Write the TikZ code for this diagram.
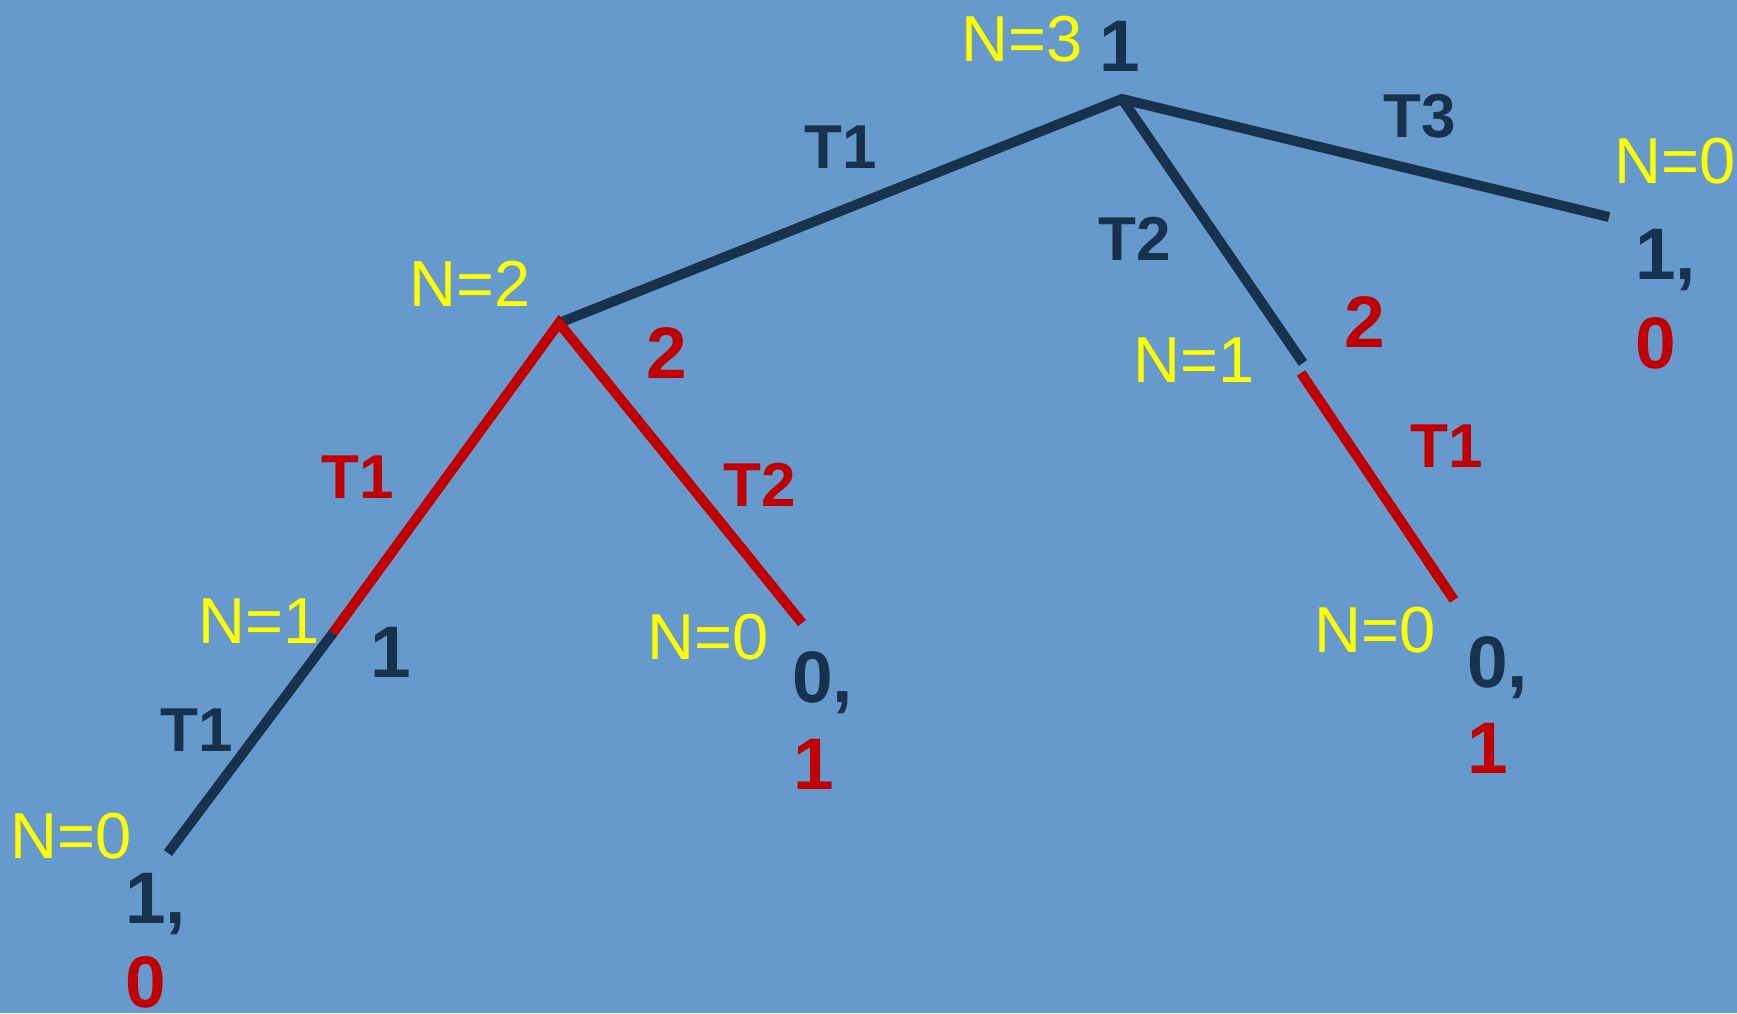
\documentclass[tikz,border=0pt]{standalone}
\usepackage{fontspec}
\setmainfont{Liberation Sans}
\definecolor{bgblue}{RGB}{102,153,204}
\definecolor{navy}{RGB}{24,50,77}
\definecolor{redc}{RGB}{192,0,0}
\definecolor{yel}{RGB}{255,255,0}
\begin{document}
\begin{tikzpicture}[x=1pt,y=-1pt,
  edgedark/.style={draw=navy,line width=10pt},
  edgered/.style={draw=redc,line width=10pt},
  nlab/.style={text=yel,font=\fontsize{65}{70}\selectfont,inner sep=0pt,anchor=base},
  tlab/.style={text=navy,font=\fontsize{62}{70}\selectfont\bfseries,inner sep=0pt,anchor=base},
  trlab/.style={text=redc,font=\fontsize{62}{70}\selectfont\bfseries,inner sep=0pt,anchor=base},
  pay/.style={text=navy,font=\fontsize{73}{80}\selectfont\bfseries,inner sep=0pt,anchor=base west},
  payr/.style={text=redc,font=\fontsize{73}{80}\selectfont\bfseries,inner sep=0pt,anchor=base west}]
\fill[bgblue] (0,0) rectangle (1737,1013);
\useasboundingbox (0,0) rectangle (1737,1013);
% tree points
\coordinate (root) at (1122,99);
\coordinate (t3end) at (1609,217);
\coordinate (n2) at (559,323);
\coordinate (rn1a) at (1303,363);
\coordinate (rn1b) at (1301,373);
\coordinate (rend) at (1454,600);
\coordinate (ln1) at (333,633);
\coordinate (lend) at (168,853);
\coordinate (mend) at (802,623);
% edges
\draw[edgedark] (n2) -- (root) -- (t3end);
\draw[edgedark] (root) -- (rn1a);
\draw[edgered] (rn1b) -- (rend);
\draw[edgered] (ln1) -- (n2) -- (mend);
\draw[edgedark] (ln1) -- (lend);
% labels
\node[nlab] (lN3) at (1022,61) {N=3};
\node[pay] (v1) at (1099,71) {1};
\node[tlab] (lT1a) at (841,168) {T1};
\node[tlab] (lT3) at (1420,137) {T3};
\node[nlab] (lN0a) at (1675,183) {N=0};
\node[pay] (p1a) at (1635,279) {1,};
\node[payr] (p1b) at (1635,368) {0};
\node[tlab] (lT2a) at (1135,260) {T2};
\node[payr] (r2a) at (1344,347) {2};
\node[nlab] (lN1a) at (1194,382) {N=1};
\node[trlab] (lT1b) at (1447,467) {T1};
\node[nlab] (lN0b) at (1375,652) {N=0};
\node[pay] (p2a) at (1467,687) {0,};
\node[payr] (p2b) at (1467,773) {1};
\node[nlab] (lN2) at (470,306) {N=2};
\node[payr] (r2b) at (646,378) {2};
\node[trlab] (lT1c) at (358,498) {T1};
\node[trlab] (lT2b) at (760,506) {T2};
\node[nlab] (lN1b) at (259,643) {N=1};
\node[pay] (v2) at (370,677) {1};
\node[tlab] (lT1d) at (197,751) {T1};
\node[nlab] (lN0c) at (71,858) {N=0};
\node[pay] (p3a) at (125,923) {1,};
\node[payr] (p3b) at (125,1007) {0};
\node[nlab] (lN0d) at (708,659) {N=0};
\node[pay] (p4a) at (792,702) {0,};
\node[payr] (p4b) at (793,789) {1};
\end{tikzpicture}
\end{document}
